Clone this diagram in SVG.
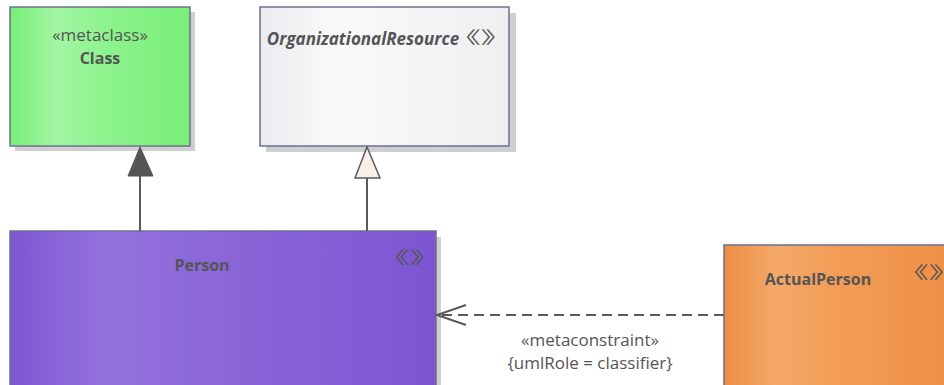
<svg xmlns="http://www.w3.org/2000/svg" width="944" height="385" viewBox="0 0 944 385">
<defs>
<linearGradient id="gGreen" x1="0" y1="0" x2="1" y2="0">
<stop offset="0" stop-color="#78ee78"/><stop offset="0.25" stop-color="#a2f6a2"/><stop offset="0.55" stop-color="#8cf38c"/><stop offset="1" stop-color="#78ee78"/>
</linearGradient>
<linearGradient id="gGray" x1="0" y1="0" x2="1" y2="0">
<stop offset="0" stop-color="#ebebf0"/><stop offset="0.3" stop-color="#fafafa"/><stop offset="1" stop-color="#efeff2"/>
</linearGradient>
<linearGradient id="gPurple" x1="0" y1="0" x2="1" y2="0">
<stop offset="0" stop-color="#7c56d2"/><stop offset="0.22" stop-color="#9472dc"/><stop offset="0.5" stop-color="#8a66d8"/><stop offset="1" stop-color="#7c56d2"/>
</linearGradient>
<linearGradient id="gOrange" x1="0" y1="0" x2="1" y2="0">
<stop offset="0" stop-color="#ee8c44"/><stop offset="0.22" stop-color="#f3a868"/><stop offset="0.5" stop-color="#f29c56"/><stop offset="1" stop-color="#ef8f46"/>
</linearGradient>
</defs>
<style>
.box{stroke:#6b7291;stroke-width:1.5}
.sh{fill:#cfcfcf}
.t{font-family:"Open Sans","Liberation Sans",sans-serif;fill:#555;font-size:17px;text-anchor:middle}
.b{font-weight:bold;font-size:16px}
.st{font-family:"Noto Sans CJK SC","Noto Sans CJK JP",sans-serif;fill:#555;font-size:17px}
.ln{stroke:#5a5a5a;stroke-width:2;fill:none}
</style>
<rect width="944" height="385" fill="#fff"/>
<g id="Class">
<rect class="sh" x="15" y="12" width="180" height="139"/>
<rect class="box" x="10" y="7" width="180" height="139" fill="url(#gGreen)"/>
<text class="t" x="100" y="41">«metaclass»</text>
<text class="t b" x="100" y="64">Class</text>
</g>
<g id="OrganizationalResource">
<rect class="sh" x="266" y="13" width="250" height="139"/>
<rect class="box" x="260" y="7" width="249" height="139" fill="url(#gGray)"/>
<text class="t b" x="363" y="45" font-style="italic" style="font-size:17px">OrganizationalResource</text>
<text class="st" transform="translate(451,44) scale(1.75,1)">《》</text>
</g>
<g id="Person">
<rect class="sh" x="16" y="237" width="425" height="150"/>
<rect class="box" x="10" y="231" width="426" height="160" fill="url(#gPurple)"/>
<text class="t b" x="202" y="271">Person</text>
<text class="st" transform="translate(380,264) scale(1.75,1)">《》</text>
</g>
<g id="ActualPerson">
<rect class="box" x="724" y="245" width="230" height="150" fill="url(#gOrange)"/>
<text class="t b" x="818" y="285">ActualPerson</text>
<text class="st" transform="translate(899,279) scale(1.75,1)">《》</text>
</g>
<g id="connectors">
<line class="ln" x1="140" y1="231" x2="140" y2="175"/>
<polygon points="140,147 128,176 153,176" fill="#555" stroke="#555" stroke-width="1"/>
<line class="ln" x1="367" y1="231" x2="367" y2="178"/>
<polygon points="367,147 355,178 380,178" fill="#f8efec" stroke="#5a5a5a" stroke-width="1.5"/>
<line class="ln" x1="724" y1="315" x2="438" y2="315" stroke-dasharray="10,6"/>
<polyline class="ln" points="466,305 437,315 466,325"/>
<text class="t" x="590" y="346">«metaconstraint»</text>
<text class="t" x="590" y="369">{umlRole = classifier}</text>
</g>
</svg>
